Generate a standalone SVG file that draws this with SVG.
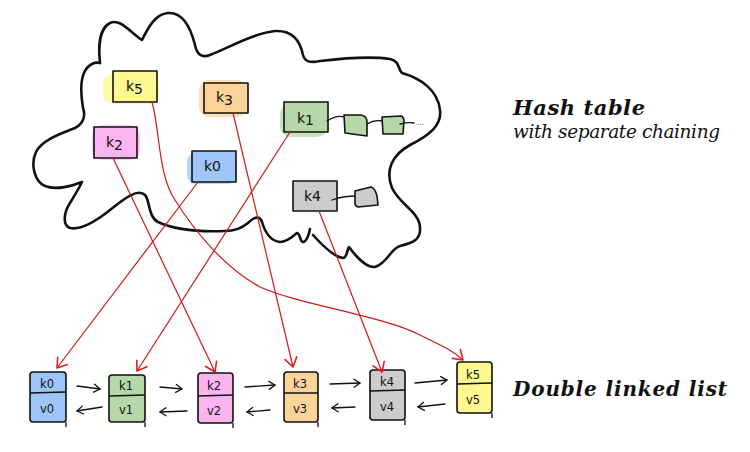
<svg xmlns="http://www.w3.org/2000/svg" width="750" height="452" viewBox="0 0 750 452">
<defs>
<style>
.cloud{fill:none;stroke:#111;stroke-width:2.6;stroke-linecap:round;stroke-linejoin:round}
.box{stroke:#111;stroke-width:1.6;stroke-linejoin:round}
.lbox{stroke:#111;stroke-width:1.6;stroke-linejoin:round}
.div{stroke:#111;stroke-width:1.3;fill:none}
.blob{opacity:0.75}
.red{fill:none;stroke:#cc1a1a;stroke-width:1.2;marker-end:url(#rh)}
.blk{fill:none;stroke:#111;stroke-width:1.3;stroke-linecap:round;marker-end:url(#bh)}
.chain{fill:none;stroke:#111;stroke-width:1.3;stroke-linecap:round}
.hk{font-family:"DejaVu Sans","Liberation Sans",sans-serif;font-size:14px;fill:#111}
.lk{font-family:"DejaVu Sans","Liberation Sans",sans-serif;font-size:11.5px;fill:#111}
.title{font-family:"DejaVu Serif","Liberation Serif",serif;font-style:italic;font-weight:bold;fill:#111}
.sub{font-family:"DejaVu Serif","Liberation Serif",serif;font-style:italic;fill:#111}
.blue{fill:#9fc5f8}.green{fill:#b6d7a8}.pink{fill:#f9b5f0}.orange{fill:#fcd49a}.gray{fill:#cccccc}.yellow{fill:#fdf88f}
</style>
<marker id="rh" viewBox="-12 -8 14 16" markerWidth="14" markerHeight="16" refX="0" refY="0" orient="auto" markerUnits="userSpaceOnUse">
<path d="M-9,-6 L0,0 L-9,6" fill="none" stroke="#e02020" stroke-width="1.6" stroke-linecap="round" stroke-linejoin="round"/>
</marker>
<marker id="bh" viewBox="-10 -6 12 12" markerWidth="12" markerHeight="12" refX="0" refY="0" orient="auto" markerUnits="userSpaceOnUse">
<path d="M-6,-4 L0,0 L-6,4" fill="none" stroke="#111" stroke-width="1.3" stroke-linecap="round" stroke-linejoin="round"/>
</marker>
</defs>
<rect width="750" height="452" fill="#fff"/>

<g id="cloud">
<path class="cloud" d="M100 63 C98 45,100 28,110 23 C120 18,130 32,142 40 C148 28,155 14,168 13 C182 12,190 25,195 45 C197 55,202 58,210 55 C230 47,255 33,275 31 C292 30,300 40,303 55 C305 62,310 63,320 61 C345 58,370 56,390 59 C400 61,398 70,402 73 C420 78,438 90,440 110 C442 125,430 135,410 145 C392 155,385 170,392 188 C400 205,420 212,420 228 C421 240,412 243,400 246 C390 249,388 263,375 267 C365 268,355 255,349 247 C347 250,347 258,343 258 C335 257,322 245,313 235"/>
<path class="cloud" d="M310 229 C309 235,306 242,303 242 C300 242,300 233,297 233 C293 236,288 242,280 242 C270 241,265 232,262 222 C260 216,255 216,248 223 C242 228,235 231,225 231 C200 232,175 230,158 222 C148 217,150 200,145 195 C138 188,125 198,110 210 C95 222,80 230,70 228 C62 225,64 212,70 203 C75 195,80 186,82 182 C70 187,55 190,45 186 C35 182,30 165,36 152 C42 140,60 134,75 128 C83 124,86 116,83 108 C80 90,80 70,92 64 C96 62,100 63,100 63"/>
</g>

<g id="ht-k5">
<rect class="blob yellow" x="103" y="74" width="56" height="30" rx="9"/>
<rect class="box yellow" x="113" y="71" width="44" height="31"/>
<text class="hk" x="126" y="91">k<tspan dy="3">5</tspan></text>
</g>
<g id="ht-k3">
<rect class="blob orange" x="199" y="80" width="48" height="37" rx="10"/>
<rect class="box orange" x="204" y="83" width="44" height="30"/>
<text class="hk" x="216" y="102">k<tspan dy="3">3</tspan></text>
</g>
<g id="ht-k1">
<rect class="blob green" x="280" y="104" width="47" height="33" rx="10"/>
<rect class="box green" x="284" y="102" width="44" height="30"/>
<text class="hk" x="297" y="123">k<tspan dy="2">1</tspan></text>
<path class="chain" d="M327 121 C333 117,338 115,344 117"/>
<path class="box green" d="M344 115 L361 115 Q367 116,367 122 L367 136 L345 133 Z"/>
<path class="chain" d="M367 124 C372 121,377 120,383 121"/>
<path class="box green" d="M382 117 L401 116 Q404 117,404 121 L403 134 L383 134 Z"/>
<path class="chain" d="M400 124 C405 123,410 122,414 123"/>
<text x="417" y="125" font-family="DejaVu Sans,sans-serif" font-size="7" fill="#111">...</text>
</g>
<g id="ht-k2">
<rect class="blob pink" x="92" y="125" width="48" height="35" rx="10"/>
<rect class="box pink" x="94" y="127" width="43" height="31"/>
<text class="hk" x="106" y="147">k<tspan dy="3">2</tspan></text>
</g>
<g id="ht-k0">
<rect class="blob blue" x="187" y="153" width="50" height="31" rx="9"/>
<rect class="box blue" x="192" y="151" width="44" height="31"/>
<text class="hk" x="204" y="171">k<tspan>0</tspan></text>
</g>
<g id="ht-k4">
<rect class="box gray" x="293" y="181" width="44" height="30"/>
<text class="hk" x="304" y="201">k<tspan>4</tspan></text>
<path class="chain" d="M332 200 C340 197,348 196,356 196"/>
<path class="box gray" d="M355 191 L371 187 Q375 188,377 196 L378 205 L358 207 Q355 206,355 203 Z"/>
</g>

<g id="list-0">
<rect class="lbox blue" x="30" y="372" width="36" height="50" rx="3"/>
<path class="div" d="M30 393 L66 392 M66 422 L66 427"/>
<text class="lk" x="40" y="388">k0</text>
<text class="lk" x="40" y="413">v0</text>
</g>
<g id="list-1">
<rect class="lbox green" x="109" y="375" width="36" height="47" rx="3"/>
<path class="div" d="M109 396 L145 395 M145 422 L145 427"/>
<text class="lk" x="119" y="390">k1</text>
<text class="lk" x="119" y="414">v1</text>
</g>
<g id="list-2">
<rect class="lbox pink" x="198" y="373" width="35" height="50" rx="3"/>
<path class="div" d="M198 396 L233 395 M233 423 L233 428"/>
<text class="lk" x="207" y="390">k2</text>
<text class="lk" x="207" y="415">v2</text>
</g>
<g id="list-3">
<rect class="lbox orange" x="284" y="372" width="34" height="50" rx="3"/>
<path class="div" d="M284 393 L318 393 M318 422 L318 427"/>
<text class="lk" x="293" y="388">k3</text>
<text class="lk" x="293" y="413">v3</text>
</g>
<g id="list-4">
<rect class="lbox gray" x="370" y="370" width="35" height="50" rx="3"/>
<path class="div" d="M370 391 L405 390 M405 420 L405 425"/>
<text class="lk" x="380" y="386">k4</text>
<text class="lk" x="380" y="411">v4</text>
</g>
<g id="list-5">
<rect class="lbox yellow" x="457" y="362" width="35" height="51" rx="3"/>
<path class="div" d="M457 384 L492 383 M492 413 L492 418"/>
<text class="lk" x="466" y="379">k5</text>
<text class="lk" x="466" y="404">v5</text>
</g>

<g id="connectors">
<path class="red" d="M198 182 L57 368"/>
<path class="red" d="M290 132 L137 371"/>
<path class="red" d="M113 158 L215 372"/>
<path class="red" d="M233 113 L293 367"/>
<path class="red" d="M319 211 L382 372"/>
<path class="red" d="M152 102 C160 130,158 175,175 200 C195 232,225 268,260 287 C300 305,380 315,420 335 C440 345,452 350,463 360"/>
<path class="blk" d="M77 386 L100 389"/>
<path class="blk" d="M102 407 L77 411"/>
<path class="blk" d="M160 387 L182 389"/>
<path class="blk" d="M187 411 L160 412"/>
<path class="blk" d="M245 387 L275 385"/>
<path class="blk" d="M270 410 L247 412"/>
<path class="blk" d="M330 384 L360 383"/>
<path class="blk" d="M355 407 L332 408"/>
<path class="blk" d="M415 383 L447 380"/>
<path class="blk" d="M445 404 L418 407"/>
</g>

<g id="titles">
<text class="title" x="513" y="115" font-size="21" textLength="132">Hash table</text>
<text class="sub" x="513" y="138" font-size="18.5" textLength="207">with separate chaining</text>
<text class="title" x="513" y="396" font-size="20" textLength="214">Double linked list</text>
</g>
</svg>
